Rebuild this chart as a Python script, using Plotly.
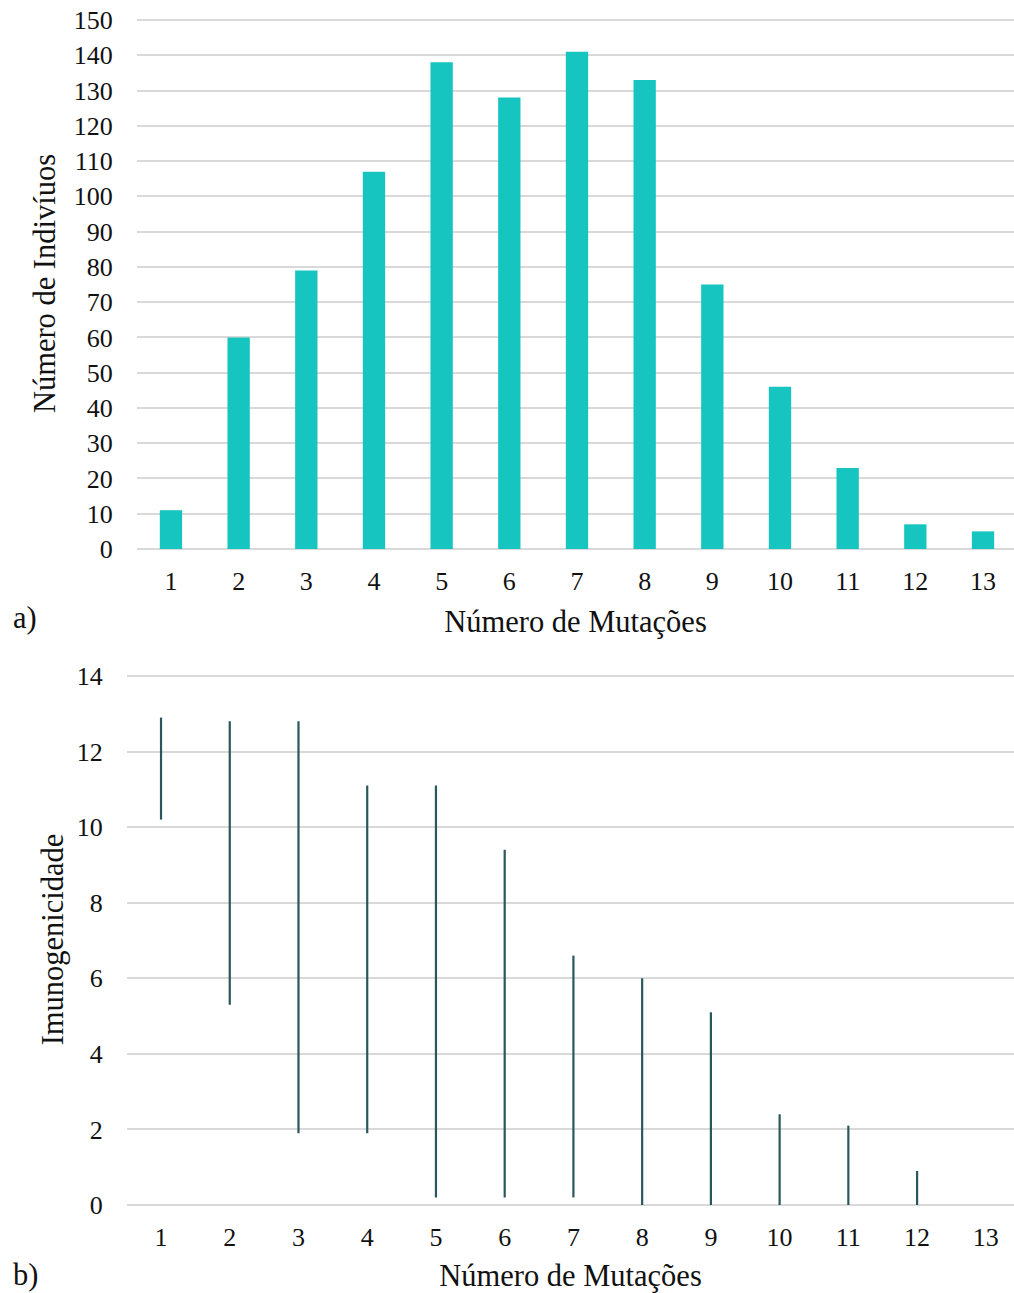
import plotly.graph_objects as go

mutacoes = list(range(1, 14))
individuos = [11, 60, 79, 107, 138, 128, 141, 133, 75, 46, 23, 7, 5]

imuno_max = [12.9, 12.8, 12.8, 11.1, 11.1, 9.4, 6.6, 6.0, 5.1, 2.4, 2.1, 0.9, None]
imuno_min = [10.2, 5.3, 1.9, 1.9, 0.2, 0.2, 0.2, 0.0, 0.0, 0.0, 0.0, 0.0, None]

y_ticks_a = list(range(0, 151, 10))
y_ticks_b = list(range(0, 15, 2))

FONT = "Liberation Serif"
W, H = 1014, 1293

fig = go.Figure()

fig.add_trace(go.Bar(
    x=mutacoes, y=individuos, width=0.33,
    marker=dict(color="#16C5BF", line=dict(width=0)),
    xaxis="x", yaxis="y", showlegend=False,
))

# range lines for panel b
lx, ly = [], []
for m, lo, hi in zip(mutacoes, imuno_min, imuno_max):
    if lo is None or hi is None:
        continue
    lx += [m, m, None]
    ly += [lo, hi, None]
fig.add_trace(go.Scatter(
    x=lx, y=ly, mode="lines",
    line=dict(color="#28585B", width=2.2),
    xaxis="x2", yaxis="y2", showlegend=False,
))

grid = "#d9d9d9"
tickfont = dict(family=FONT, size=26, color="#111")
titlefont = dict(family=FONT, size=30.5, color="#111")

pa = 529 / 150
pb = 529 / 14

fig.update_layout(
    width=W, height=H,
    margin=dict(l=0, r=0, t=0, b=0, autoexpand=False),
    paper_bgcolor="white", plot_bgcolor="white",
    font=dict(family=FONT, color="#111"),
    xaxis=dict(
        domain=[137 / W, 1.0], range=[0.498, 13.458],
        tickvals=mutacoes, ticktext=[str(m) for m in mutacoes],
        tickfont=tickfont, showgrid=False, zeroline=False, showline=False,
        ticks="outside", ticklen=9, tickcolor="rgba(0,0,0,0)",
        title=dict(text="Número de Mutações", font=titlefont, standoff=15),
        anchor="y", automargin=False,
    ),
    yaxis=dict(
        domain=[1 - 549 / H, 1 - 18 / H], range=[0, 150 + 2 / pa],
        tickvals=y_ticks_a, tickfont=tickfont,
        showgrid=True, gridcolor=grid, gridwidth=2.2,
        zeroline=True, zerolinecolor=grid, zerolinewidth=2.2,
        ticks="outside", ticklen=18, tickcolor="rgba(0,0,0,0)",
        title=dict(text="Número de Indivíuos", font=titlefont, standoff=9),
        anchor="x", automargin=False,
    ),
    xaxis2=dict(
        domain=[127 / W, 1.0], range=[0.505, 13.41],
        tickvals=mutacoes, ticktext=[str(m) for m in mutacoes],
        tickfont=tickfont, showgrid=False, zeroline=False, showline=False,
        ticks="outside", ticklen=9, tickcolor="rgba(0,0,0,0)",
        title=dict(text="Número de Mutações", font=titlefont, standoff=15),
        anchor="y2", automargin=False,
    ),
    yaxis2=dict(
        domain=[1 - 1205 / H, 1 - 674 / H], range=[0, 14 + 2 / pb],
        tickvals=y_ticks_b, tickfont=tickfont,
        showgrid=True, gridcolor=grid, gridwidth=2.2,
        zeroline=True, zerolinecolor=grid, zerolinewidth=2.2,
        ticks="outside", ticklen=18, tickcolor="rgba(0,0,0,0)",
        title=dict(text="Imunogenicidade", font=titlefont, standoff=4),
        anchor="x2", automargin=False,
    ),
    annotations=[
        dict(text="a)", x=11 / W, y=1 - 618 / H, xref="paper", yref="paper",
             xanchor="left", yanchor="middle", showarrow=False,
             font=dict(family=FONT, size=30.5, color="#111")),
        dict(text="b)", x=11 / W, y=1 - 1275 / H, xref="paper", yref="paper",
             xanchor="left", yanchor="middle", showarrow=False,
             font=dict(family=FONT, size=30.5, color="#111")),
    ],
)

fig.write_html(
    "out.html",
    config={"displayModeBar": False},
    post_script="document.body.style.margin='0';document.body.style.overflow='hidden';",
)
